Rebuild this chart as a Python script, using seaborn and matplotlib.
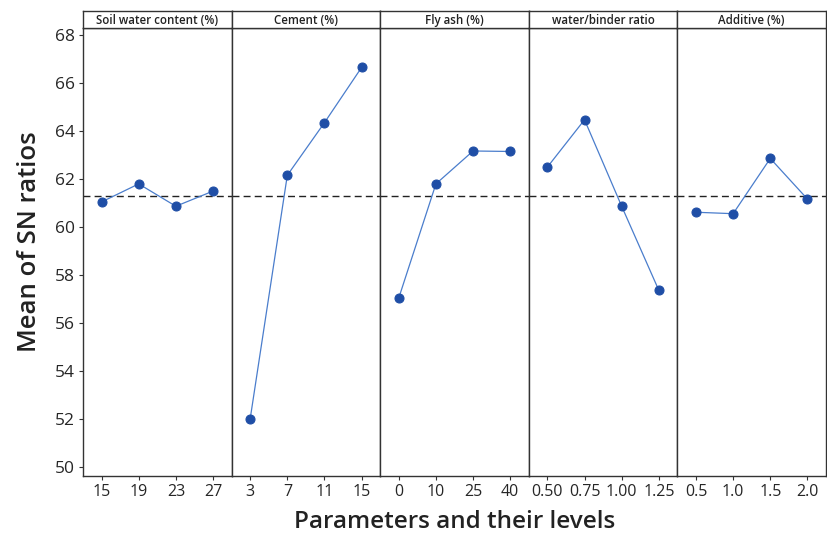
import matplotlib
matplotlib.use("Agg")
import matplotlib.pyplot as plt
import seaborn as sns
import pandas as pd
import numpy as np

sns.set_style("white")
plt.rcParams['font.family'] = ['Open Sans', 'DejaVu Sans']

factors = ["Soil water content (%)", "Cement (%)", "Fly ash (%)", "water/binder ratio", "Additive (%)"]
levels = [
    ["15", "19", "23", "27"],
    ["3", "7", "11", "15"],
    ["0", "10", "25", "40"],
    ["0.50", "0.75", "1.00", "1.25"],
    ["0.5", "1.0", "1.5", "2.0"],
]
sn_means = [
    [61.05, 61.80, 60.87, 61.50],
    [52.02, 62.16, 64.35, 66.65],
    [57.05, 61.80, 63.17, 63.15],
    [62.50, 64.47, 60.87, 57.37],
    [60.62, 60.56, 62.86, 61.17],
]
overall_mean = 61.29

rows = []
for f, lv, vals in zip(factors, levels, sn_means):
    for i, (l, v) in enumerate(zip(lv, vals)):
        rows.append({"factor": f, "level": l, "pos": i, "sn": v})
df = pd.DataFrame(rows)

fig = plt.figure(figsize=(8.27, 5.38), dpi=100)
left, right = 83 / 827, 826 / 827
bottom, top = 1 - 476 / 538, 1 - 28 / 538
head_top = 1 - 11 / 538
n = len(factors)
w = (right - left) / n

marker_color = "#1f4ea6"
line_color = "#4a7dcc"
frame_color = "#333333"

for k, f in enumerate(factors):
    ax = fig.add_axes([left + k * w, bottom, w, top - bottom])
    sub = df[df["factor"] == f]
    sns.lineplot(data=sub, x="pos", y="sn", ax=ax, color=line_color, lw=0.9,
                 marker="o", markersize=6.5, markerfacecolor=marker_color,
                 markeredgecolor=marker_color)
    ax.axhline(overall_mean, ls=(0, (5, 3)), color="#222222", lw=1.0, zorder=0)
    ax.set_xlim(-0.5, 3.5)
    ax.set_ylim(49.64, 68.29)
    ax.set_xticks(range(4))
    ax.set_xticklabels(levels[k], fontsize=11.5)
    ax.set_xlabel("")
    ax.set_ylabel("")
    ax.tick_params(axis="x", direction="out", length=3, width=0.8, color=frame_color, pad=3, bottom=True)
    if k == 0:
        ax.set_yticks(np.arange(50, 69, 2))
        ax.set_yticklabels([str(v) for v in range(50, 69, 2)], fontsize=12.5)
        ax.tick_params(axis="y", direction="out", length=3, width=0.8, color=frame_color, pad=3, left=True)
    else:
        ax.set_yticks([])
    for s in ax.spines.values():
        s.set_color(frame_color)
        s.set_linewidth(1.0)

    hax = fig.add_axes([left + k * w, top, w, head_top - top])
    hax.set_xticks([])
    hax.set_yticks([])
    for s in hax.spines.values():
        s.set_color(frame_color)
        s.set_linewidth(1.0)
    hax.text(0.5, 0.45, f, ha="center", va="center", fontsize=8.3, fontweight="semibold",
             transform=hax.transAxes, color="#222222")

fig.text(30 / 827, 1 - 242 / 538, "Mean of SN ratios", rotation=90, ha="center", va="center",
         fontsize=18.5, fontweight="semibold", color="#222222")
fig.text((left + right) / 2, 1 - 522 / 538, "Parameters and their levels", ha="center", va="center",
         fontsize=17.5, fontweight="semibold", color="#222222")

fig.savefig("out.png", dpi=100)
